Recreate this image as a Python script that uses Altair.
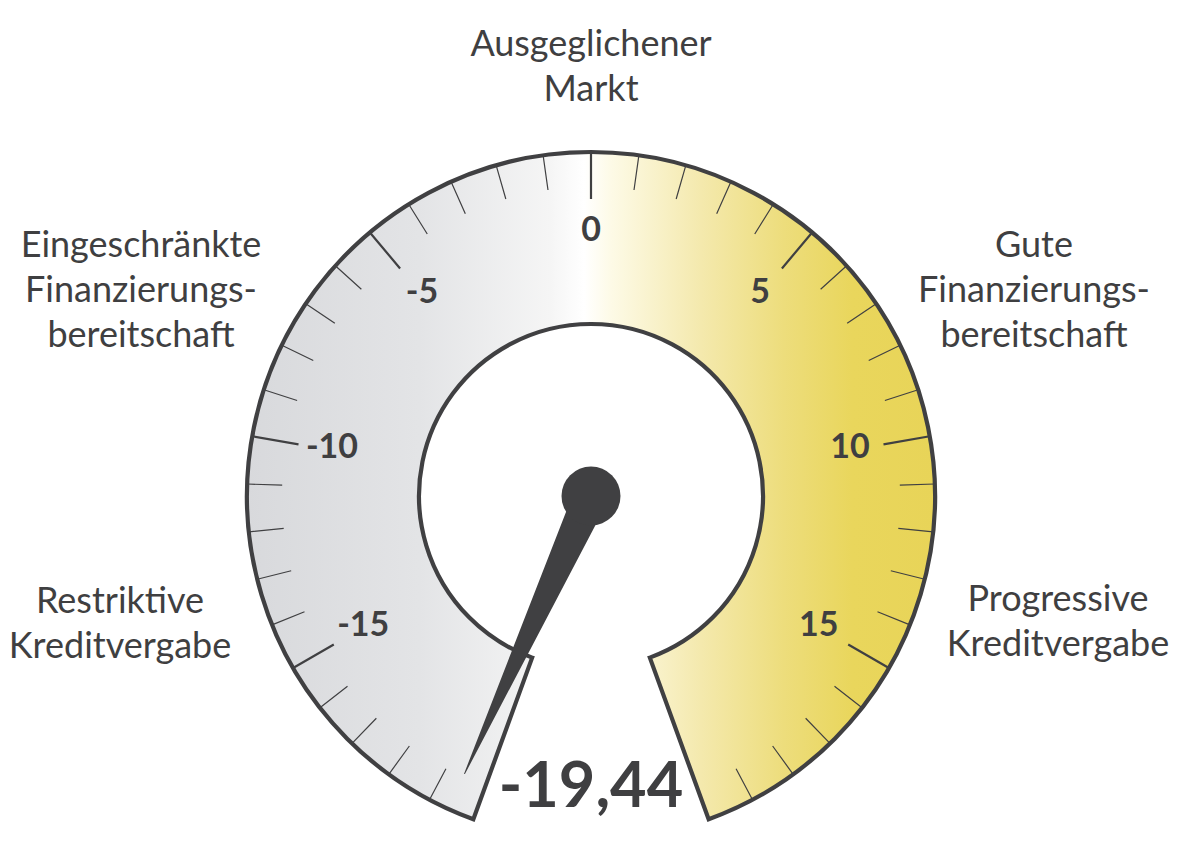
import math
import altair as alt
import pandas as pd

# ---------------- data ----------------
GAUGE_MIN = -20
GAUGE_MAX = 20
GAUGE_VALUE = [-19.44]
MAJOR_TICKS = [-15, -10, -5, 0, 5, 10, 15]
MINOR_TICKS = [v for v in range(-19, 20) if v % 5 != 0]
CATEGORY_LABELS = [
    "Ausgeglichener\nMarkt",
    "Eingeschränkte\nFinanzierungs-\nbereitschaft",
    "Gute\nFinanzierungs-\nbereitschaft",
    "Restriktive\nKreditvergabe",
    "Progressive\nKreditvergabe",
]

# ---------------- layout / style ----------------
W, H = 1166, 826
CX, CY = 583, 488
R_OUT, R_IN = 344, 172
MAJOR_IN, MINOR_IN = 297, 309
LABEL_R = 263
HALF_SWEEP = math.radians(160)
NEEDLE_LEN, NEEDLE_W = 305, 35
HUB_R = 29.5
CAT_X = [583, 133, 1026, 112, 1050]
CAT_Y = [48, 249, 249, 605, 603]
VALUE_Y = 799
FONT = "Lato"
DARK = "#404042"
TEXT = "#3f3f41"

theta_scale = alt.Scale(domain=[GAUGE_MIN, GAUGE_MAX], range=[-HALF_SWEEP, HALF_SWEEP])
xs = alt.Scale(domain=[0, W], range=[0, W], nice=False, zero=False)
ys = alt.Scale(domain=[0, H], range=[0, H], nice=False, zero=False)

gradient = alt.LinearGradient(
    gradient="linear",
    x1=0, x2=1, y1=0, y2=0,
    stops=[
        alt.GradientStop(offset=0.0, color="#d8d9dc"),
        alt.GradientStop(offset=0.25, color="#e3e4e6"),
        alt.GradientStop(offset=0.44, color="#f5f5f5"),
        alt.GradientStop(offset=0.49, color="#ffffff"),
        alt.GradientStop(offset=0.53, color="#fdfae6"),
        alt.GradientStop(offset=0.66, color="#f4e9ad"),
        alt.GradientStop(offset=0.78, color="#eddd7c"),
        alt.GradientStop(offset=0.88, color="#e9d65c"),
        alt.GradientStop(offset=1.0, color="#e8d458"),
    ],
)

# ring
ring_df = pd.DataFrame({"start": [GAUGE_MIN], "end": [GAUGE_MAX]})
ring = alt.Chart(ring_df).mark_arc(
    radius=R_OUT, radius2=R_IN, fill=gradient, stroke=DARK, strokeWidth=4.2, strokeJoin="miter"
).encode(
    theta=alt.Theta("start:Q", scale=theta_scale, stack=False),
    theta2=alt.Theta2("end:Q"),
    x=alt.value(CX), y=alt.value(CY),
)

# ticks
minor = alt.Chart(pd.DataFrame({"v": MINOR_TICKS})).mark_arc(
    radius=R_OUT, radius2=MINOR_IN, stroke=DARK, strokeWidth=1.2, fillOpacity=0
).encode(
    theta=alt.Theta("v:Q", scale=theta_scale, stack=False),
    theta2=alt.Theta2("v:Q"),
    x=alt.value(CX), y=alt.value(CY),
)
major = alt.Chart(pd.DataFrame({"v": MAJOR_TICKS})).mark_arc(
    radius=R_OUT, radius2=MAJOR_IN, stroke=DARK, strokeWidth=2.2, fillOpacity=0
).encode(
    theta=alt.Theta("v:Q", scale=theta_scale, stack=False),
    theta2=alt.Theta2("v:Q"),
    x=alt.value(CX), y=alt.value(CY),
)

# tick labels
num_df = pd.DataFrame({"v": MAJOR_TICKS, "label": [str(v) for v in MAJOR_TICKS]})
nums = alt.Chart(num_df).mark_text(
    radius=LABEL_R, font=FONT, fontSize=34, fontWeight="bold", color=TEXT,
    align="center", baseline="middle",
).encode(
    theta=alt.Theta("v:Q", scale=theta_scale, stack=False),
    text="label:N",
    x=alt.value(CX), y=alt.value(CY - 2),
)

# needle
needle_df = pd.DataFrame({"value": GAUGE_VALUE * 2, "end": [0, 1]})
needle = alt.Chart(needle_df).transform_calculate(
    a=f"(datum.value - ({GAUGE_MIN})) / {GAUGE_MAX - GAUGE_MIN} * {2 * HALF_SWEEP} - {HALF_SWEEP}",
    r=f"datum.end * {NEEDLE_LEN}",
    w=f"(1 - datum.end) * {NEEDLE_W}",
).transform_calculate(
    px=f"{CX} + sin(datum.a) * datum.r",
    py=f"{CY} - cos(datum.a) * datum.r",
).mark_trail(color=DARK).encode(
    x=alt.X("px:Q", scale=xs, axis=None),
    y=alt.Y("py:Q", scale=ys, axis=None),
    size=alt.Size("w:Q", scale=None, legend=None),
    order=alt.Order("end:Q"),
)

hub = alt.Chart(pd.DataFrame({"value": GAUGE_VALUE})).mark_arc(
    theta=0, theta2=2 * math.pi, radius=HUB_R, color=DARK
).encode(x=alt.value(CX), y=alt.value(CY))

# value text
val_df = pd.DataFrame({"value": GAUGE_VALUE,
                       "label": [f"{v:.2f}".replace(".", ",") for v in GAUGE_VALUE]})
value_text = alt.Chart(val_df).mark_text(
    font=FONT, fontSize=63, fontWeight="bold", color=TEXT, align="center", baseline="alphabetic"
).encode(text="label:N", x=alt.value(CX), y=alt.value(VALUE_Y))

# category labels
cat_df = pd.DataFrame({"label": CATEGORY_LABELS, "lx": CAT_X, "ly": CAT_Y})
cats = alt.Chart(cat_df).mark_text(
    font=FONT, fontSize=36, color=TEXT, lineBreak="\n", lineHeight=45,
    align="center", baseline="alphabetic",
).encode(
    x=alt.X("lx:Q", scale=xs, axis=None),
    y=alt.Y("ly:Q", scale=ys, axis=None),
    text="label:N",
)

chart = alt.layer(ring, minor, major, nums, needle, hub, value_text, cats).properties(
    width=W, height=H, padding=0, autosize=alt.AutoSizeParams(type="none"),
    background="white",
).configure_view(strokeWidth=0)

chart.save("out.html", embed_options={"renderer": "svg", "actions": False})
